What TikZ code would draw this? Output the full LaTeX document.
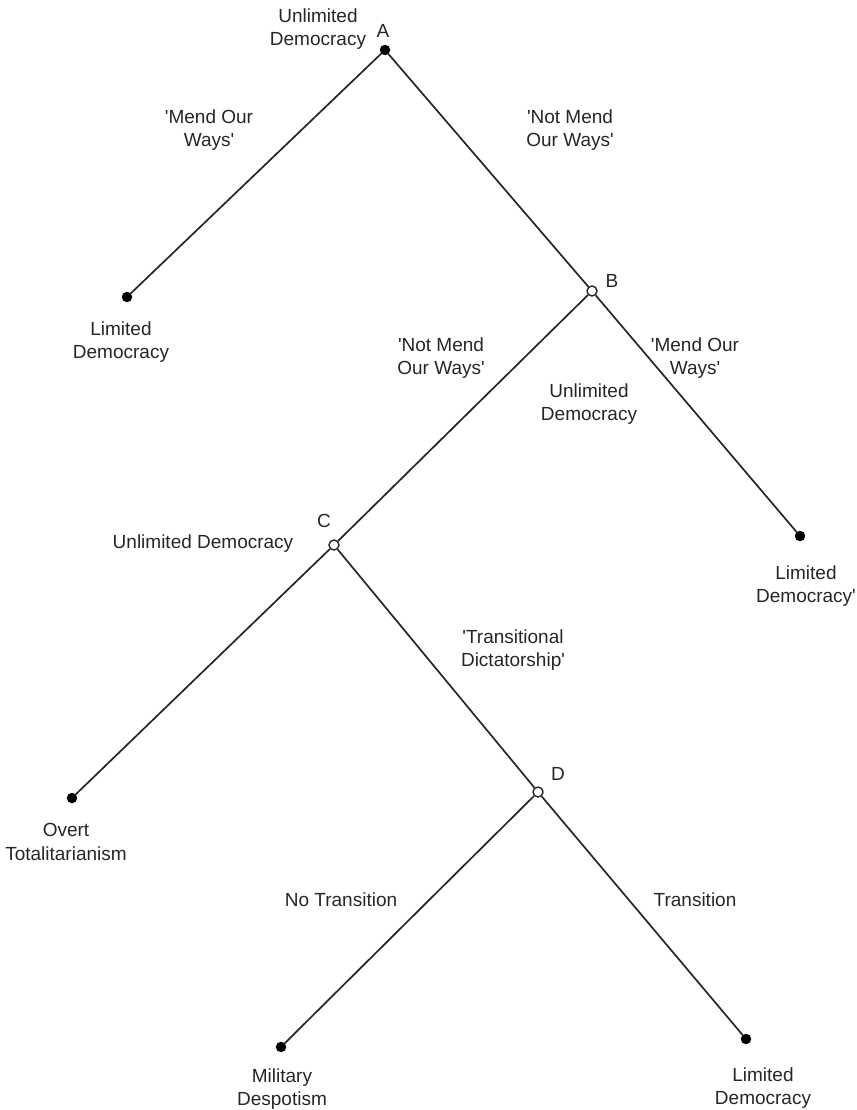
\documentclass[tikz,border=0pt]{standalone}
\usepackage{fontspec}
\setmainfont{Liberation Sans}
\newcommand{\sq}{\textquotesingle}
\begin{document}
\begin{tikzpicture}[x=1pt,y=-1pt,
  edge/.style={line width=1.7pt,black!85},
  leaf/.style={circle,fill=black,inner sep=0pt,minimum size=10.5pt},
  choice/.style={circle,draw=black!85,fill=white,line width=1.4pt,inner sep=0pt,minimum size=10pt},
  lbl/.style={align=center,font=\fontsize{19}{23.5}\selectfont,text=black!85,inner sep=0pt}]
\useasboundingbox (0,0) rectangle (856,1110);
\node[leaf] (A) at (385,50) {};
\node[leaf] (L1) at (127,297) {};
\node[choice] (B) at (592,291) {};
\node[leaf] (L2) at (800,536) {};
\node[choice] (C) at (334,545) {};
\node[leaf] (L3) at (72,798) {};
\node[choice] (D) at (538,792) {};
\node[leaf] (L4) at (281,1047) {};
\node[leaf] (L5) at (746,1039) {};
\draw[edge] (A) -- (L1);
\draw[edge] (A) -- (B);
\draw[edge] (B) -- (L2);
\draw[edge] (B) -- (C);
\draw[edge] (C) -- (L3);
\draw[edge] (C) -- (D);
\draw[edge] (D) -- (L4);
\draw[edge] (D) -- (L5);
\node[lbl] (tA) at (318,29) {Unlimited\\Democracy};
\node[lbl] (nA) at (383,31) {A};
\node[lbl] (e1) at (209,130) {\sq Mend Our\\Ways\sq};
\node[lbl] (e2) at (570,130) {\sq Not Mend\\Our Ways\sq};
\node[lbl] (tL1) at (121,342) {Limited\\Democracy};
\node[lbl] (nB) at (612,281) {B};
\node[lbl] (e3) at (441,358) {\sq Not Mend\\Our Ways\sq};
\node[lbl] (e4) at (695,358) {\sq Mend Our\\Ways\sq};
\node[lbl] (tB) at (589,404) {Unlimited\\Democracy};
\node[lbl] (nC) at (324,521) {C};
\node[lbl] (tC) at (203,544) {Unlimited Democracy};
\node[lbl] (tL2) at (806,586) {Limited\\Democracy\sq};
\node[lbl] (e5) at (513,650) {\sq Transitional\\Dictatorship\sq};
\node[lbl] (tL3) at (66,842) {Overt\\Totalitarianism};
\node[lbl] (nD) at (558,774) {D};
\node[lbl] (e6) at (341,900) {No Transition};
\node[lbl] (e7) at (695,900) {Transition};
\node[lbl] (tL4) at (282,1089) {Military\\Despotism};
\node[lbl] (tL5) at (763,1088) {Limited\\Democracy};
\end{tikzpicture}
\end{document}
